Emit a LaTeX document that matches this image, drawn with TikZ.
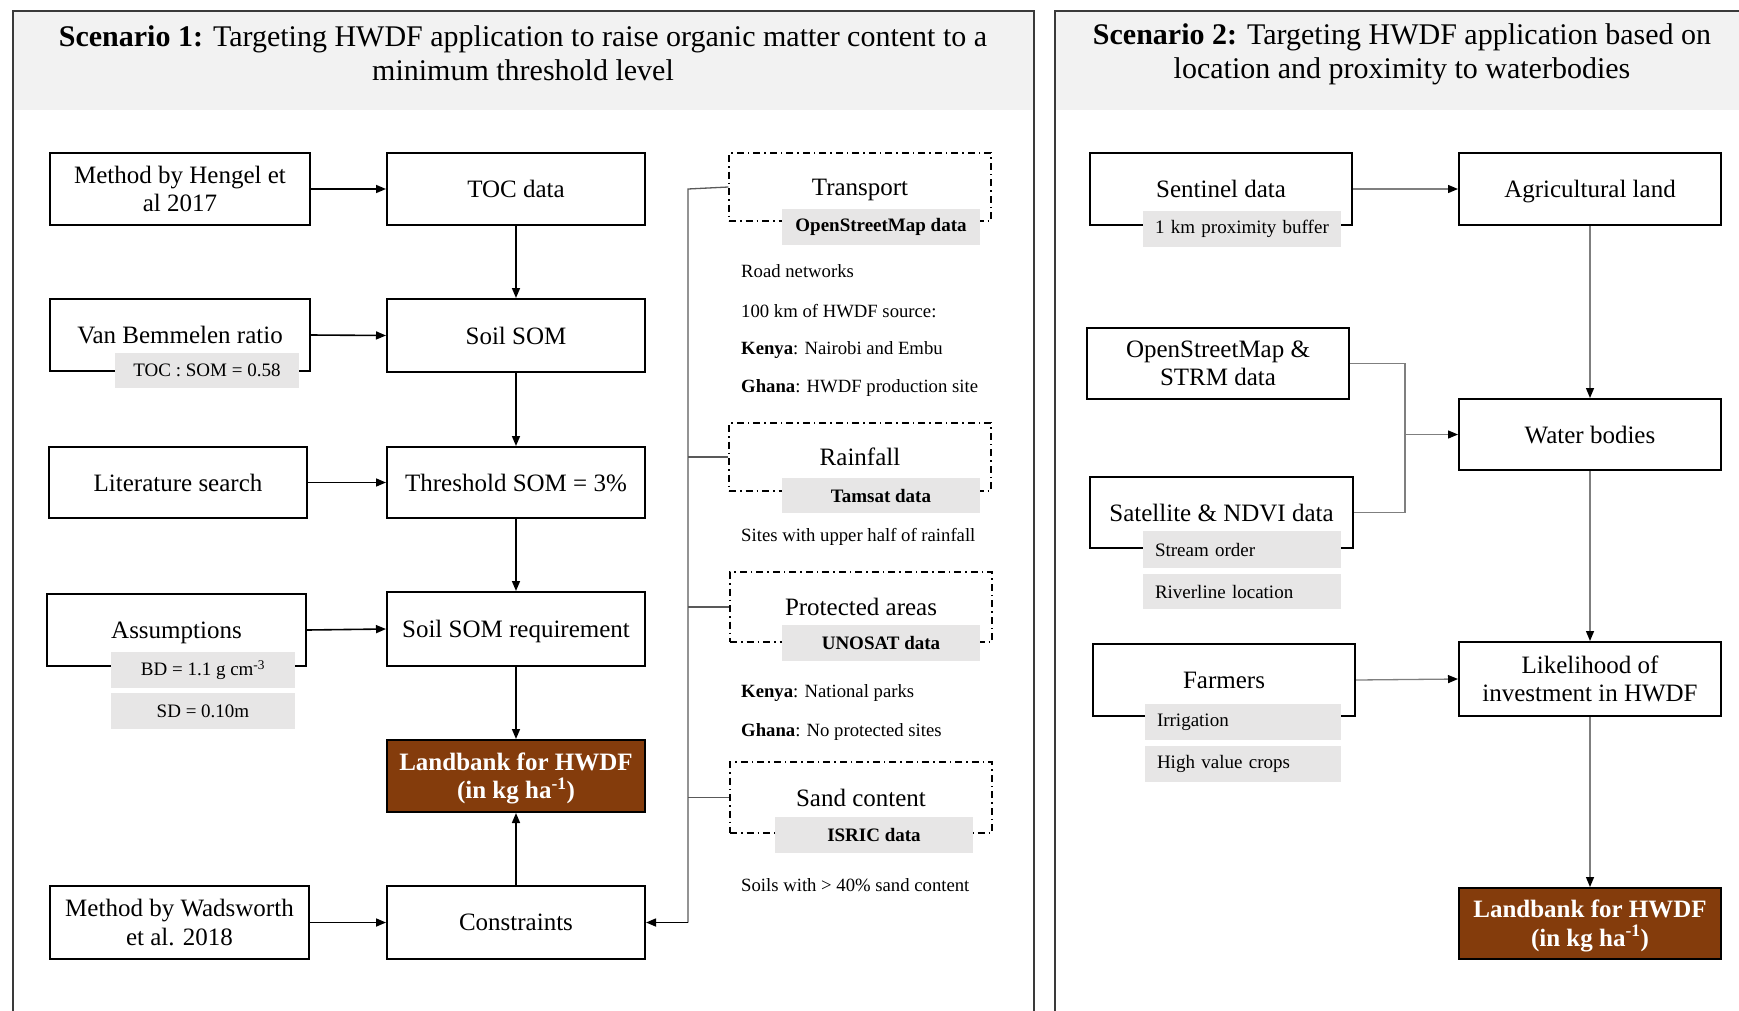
\documentclass[tikz,border=0pt]{standalone}
\usepackage{fontspec}
\setmainfont{Liberation Serif}
\usetikzlibrary{arrows.meta}
\definecolor{hdr}{HTML}{F2F2F2}
\definecolor{lbl}{HTML}{E7E6E6}
\definecolor{brn}{HTML}{843C0C}
\definecolor{brk}{HTML}{595959}
\definecolor{arw}{HTML}{7F7F7F}
\definecolor{pnl}{HTML}{3A3A3A}
\begin{document}
\begin{tikzpicture}[x=1pt,y=-1pt,
  fmain/.style={font=\fontsize{25}{28.5}\selectfont},
  box/.style={draw=black,line width=2pt,fill=white,align=center,inner sep=0pt,fmain},
  sl/.style={text depth=0pt},
  land/.style={box,fill=brn,text=white,font=\fontsize{25}{28.5}\selectfont\bfseries},
  dbox/.style={draw=black,line width=1.4pt,dash pattern=on 7pt off 4pt on 1.5pt off 4pt,minimum width=262pt,inner sep=0pt,fmain,text depth=0pt},
  glbl/.style={fill=lbl,inner sep=0pt,minimum height=36pt,font=\fontsize{19}{22}\selectfont},
  glblL/.style={fill=lbl,inner xsep=12pt,inner ysep=0pt,minimum height=36pt,text width=174pt,align=left,font=\fontsize{19}{22}\selectfont},
  dlbl/.style={fill=lbl,inner sep=0pt,minimum width=198pt,minimum height=36pt,font=\fontsize{19}{22}\selectfont\bfseries},
  note/.style={anchor=base west,inner sep=0pt,font=\fontsize{18.7}{21}\selectfont},
  htxt/.style={anchor=base,inner sep=0pt,font=\fontsize{30}{34}\selectfont},
  arr/.style={line width=1.6pt,-{Triangle[length=10pt,width=8pt]}},
  arrg/.style={draw=arw,line width=1.3pt,-{Triangle[length=10pt,width=8pt,color=black]}},
  brl/.style={draw=brk,line width=1.3pt},
]
\useasboundingbox (0,0) rectangle (1739,1010);
% panels
\fill[hdr] (13,11) rectangle (1034,110);
\fill[hdr] (1055,11) rectangle (1741,110);
\draw[pnl,line width=2pt] (13,1012) -- (13,11) -- (1034,11) -- (1034,1012);
\draw[pnl,line width=2pt] (1055,1012) -- (1055,11) -- (1741,11);
\node[htxt] (h1a) at (523,46) {\textbf{Scenario 1:} Targeting HWDF application to raise organic matter content to a};
\node[htxt] (h1b) at (523,80) {minimum threshold level};
\node[htxt] (h2a) at (1402,44) {\textbf{Scenario 2:} Targeting HWDF application based on};
\node[htxt] (h2b) at (1402,78) {location and proximity to waterbodies};

% Scenario 1 main column
\node[box,minimum width=260pt,minimum height=72pt] (hengel) at (180,189) {Method by Hengel et\\al 2017};
\node[box,sl,minimum width=258pt,minimum height=72pt] (toc) at (516,189) {TOC data};
\node[box,sl,minimum width=260pt,minimum height=72pt] (vanb) at (180,335) {Van Bemmelen ratio};
\node[box,sl,minimum width=258pt,minimum height=73pt] (soilsom) at (516,335.5) {Soil SOM};
\node[box,sl,minimum width=258pt,minimum height=71pt] (lit) at (178,482.5) {Literature search};
\node[box,sl,minimum width=258pt,minimum height=71pt] (thresh) at (516,482.5) {Threshold SOM = 3\%};
\node[box,sl,minimum width=259pt,minimum height=72pt] (assum) at (176.5,630) {Assumptions};
\node[box,sl,minimum width=258pt,minimum height=74pt] (somreq) at (516,629) {Soil SOM requirement};
\node[land,minimum width=258pt,minimum height=72pt] (land1) at (516,776) {\rule{0pt}{22pt}Landbank for HWDF\\(in kg ha\textsuperscript{-1})};
\node[box,sl,minimum width=258pt,minimum height=73pt] (cons) at (516,922.5) {Constraints};
\node[box,minimum width=259pt,minimum height=73pt] (wads) at (179.5,922.5) {Method by Wadsworth\\et al. 2018};
\node[glbl,minimum width=184pt,minimum height=35pt] (tocsom) at (207,370.5) {TOC : SOM = 0.58};
\node[glbl,minimum width=184pt] (bd) at (203,670) {BD = 1.1 g cm\textsuperscript{-3}};
\node[glbl,minimum width=184pt] (sd) at (203,711) {SD = 0.10m};

\draw[arr] (hengel.east) -- (toc.west);
\draw[arr] (vanb.east) -- (soilsom.west);
\draw[arr] (lit.east) -- (thresh.west);
\draw[arr] (assum.east) -- (somreq.west);
\draw[arr] (wads.east) -- (cons.west);
\draw[arr] (toc.south) -- (soilsom.north);
\draw[arr] (soilsom.south) -- (thresh.north);
\draw[arr] (thresh.south) -- (somreq.north);
\draw[arr] (somreq.south) -- (land1.north);
\draw[arr] (cons.north) -- (land1.south);

% constraints column
\node[dbox,minimum height=68pt] (transp) at (860,187) {Transport};
\node[dbox,minimum height=68pt] (rain) at (860,457) {Rainfall};
\node[dbox,minimum height=70pt] (prot) at (861,607) {Protected areas};
\node[dbox,minimum height=71pt] (sand) at (861,797.5) {Sand content};
\node[dlbl] (osmd) at (881,227) {OpenStreetMap data};
\node[dlbl,minimum height=35pt] (tamsat) at (881,495.5) {Tamsat data};
\node[dlbl] (unosat) at (881,643) {UNOSAT data};
\node[dlbl] (isric) at (874,835) {ISRIC data};
\node[note] (t1) at (741,277) {Road networks};
\node[note] (t2) at (741,317) {100 km of HWDF source:};
\node[note] (t3) at (741,354) {\textbf{Kenya}: Nairobi and Embu};
\node[note] (t4) at (741,392) {\textbf{Ghana}: HWDF production site};
\node[note] (t5) at (741,541) {Sites with upper half of rainfall};
\node[note] (t6) at (741,697) {\textbf{Kenya}: National parks};
\node[note] (t7) at (741,736) {\textbf{Ghana}: No protected sites};
\node[note] (t8) at (741,891) {Soils with > 40\% sand content};

\coordinate (bt) at (688,189);
\coordinate (bb) at (688,922.5);
\draw[brl] (transp.west) -- (bt) -- (bb);
\draw[brl] (rain.west) -- (688,457);
\draw[brl] (prot.west) -- (688,607);
\draw[brl] (sand.west) -- (688,797.5);
\draw[arr] (bb) -- (cons.east);

% Scenario 2
\node[box,sl,minimum width=262pt,minimum height=72pt] (sent) at (1221,189) {Sentinel data};
\node[box,sl,minimum width=262pt,minimum height=72pt] (agri) at (1590,189) {Agricultural land};
\node[box,minimum width=262pt,minimum height=71pt] (osm2) at (1218,363.5) {OpenStreetMap \&\\STRM data};
\node[box,sl,minimum width=262pt,minimum height=71pt] (water) at (1590,434.5) {Water bodies};
\node[box,sl,minimum width=263pt,minimum height=71pt] (sat) at (1221.5,512.5) {Satellite \& NDVI data};
\node[box,sl,minimum width=262pt,minimum height=72pt] (farm) at (1224,680) {Farmers};
\node[box,minimum width=262pt,minimum height=74pt] (likely) at (1590,679) {Likelihood of\\investment in HWDF};
\node[land,minimum width=262pt,minimum height=71pt] (land2) at (1590,923.5) {\rule{0pt}{22pt}Landbank for HWDF\\(in kg ha\textsuperscript{-1})};
\node[glblL] (km) at (1242,229) {\mbox{1 km proximity buffer}};
\node[glblL,minimum height=37pt] (stream) at (1242,549.5) {Stream order};
\node[glblL,minimum height=35pt] (river) at (1242,591.5) {Riverline location};
\node[glblL,text width=172pt] (irr) at (1243,722) {Irrigation};
\node[glblL,text width=172pt] (hvc) at (1243,764) {High value crops};

\coordinate (jn) at (1405,434.5);
\draw[arrg] (sent.east) -- (agri.west);
\draw[arrg] (agri.south) -- (water.north);
\draw[arw,line width=1.3pt] (osm2.east) -- (osm2.east -| jn) -- (jn);
\draw[arw,line width=1.3pt] (sat.east) -- (sat.east -| jn) -- (jn);
\draw[arrg] (jn) -- (water.west);
\draw[arrg] (water.south) -- (likely.north);
\draw[arrg] (farm.east) -- (likely.west);
\draw[arrg] (likely.south) -- (land2.north);
\end{tikzpicture}
\end{document}
